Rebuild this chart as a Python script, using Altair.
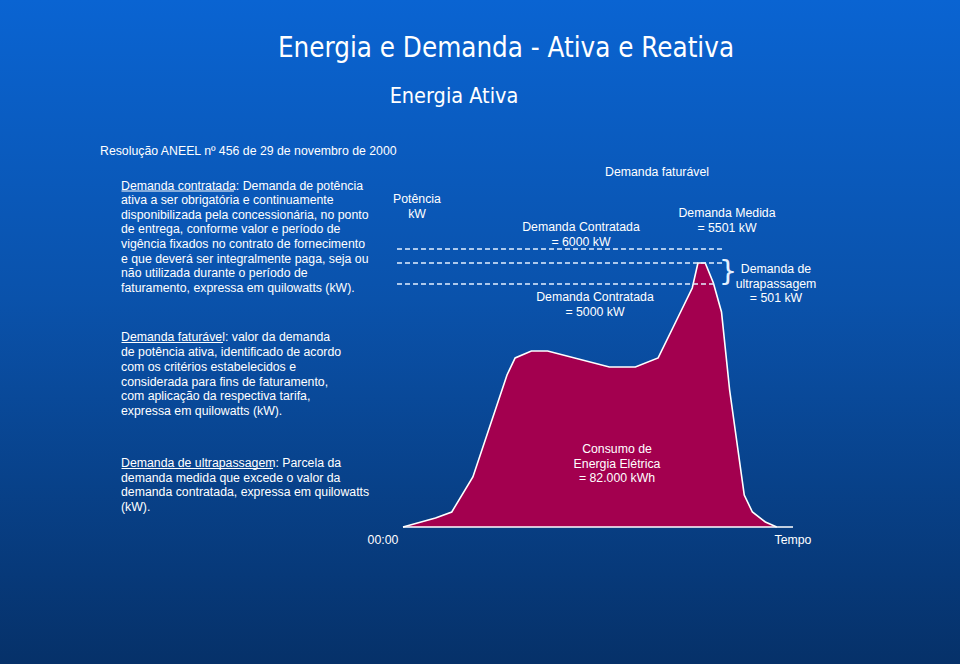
import altair as alt
import pandas as pd

# ---- data ----
hora = [0, 2.0, 3.0, 4.3, 6.4, 6.9, 7.9, 8.9, 12.7, 14.3, 15.7, 16.6, 17.8, 18.15, 18.6, 19.1, 19.6, 20.1, 21.0, 21.5, 22.3, 23.0]
potencia_kw = [0, 185, 309, 1029, 3128, 3478, 3621, 3621, 3292, 3292, 3478, 4095, 4918, 5501, 5501, 5025, 4424, 2819, 658, 309, 103, 0]

limites_kw = [6000, 5501, 5000]
limites_inicio = [-0.37, -0.37, -0.37]
limites_fim = [19.7, 19.7, 19.3]

W, H = 960, 664
BODY = "Liberation Sans, Arial, sans-serif"
TITLE_FONT = "DejaVu Sans Condensed, DejaVu Sans, sans-serif"

xscale = alt.Scale(domain=[0, 24], range=[403, 793], nice=False, zero=False)
yscale = alt.Scale(domain=[0, 5000, 5501, 6000], range=[527, 284, 263, 249], nice=False, zero=False)

one = pd.DataFrame({"a": [0]})
base1 = alt.Chart(one)

bg = base1.mark_rect(
    color=alt.Gradient(
        gradient="linear",
        stops=[
            alt.GradientStop(color="#0a64d2", offset=0),
            alt.GradientStop(color="#0a52ab", offset=0.45),
            alt.GradientStop(color="#063169", offset=1),
        ],
        x1=0, x2=0, y1=0, y2=1,
    )
).encode(x=alt.value(0), x2=alt.value(W), y=alt.value(0), y2=alt.value(H))

curve_df = pd.DataFrame({"hora": hora, "kw": potencia_kw})
area = alt.Chart(curve_df).mark_area(
    color="#a3004f", opacity=1,
    line={"color": "white", "strokeWidth": 1.6},
).encode(
    x=alt.X("hora:Q", scale=xscale, axis=None),
    y=alt.Y("kw:Q", scale=yscale, axis=None),
)

baseline_df = pd.DataFrame({"hora": [0], "hora2": [24], "kw": [0]})
baseline = alt.Chart(baseline_df).mark_rule(color="white", strokeWidth=1.6).encode(
    x=alt.X("hora:Q", scale=xscale, axis=None), x2="hora2:Q",
    y=alt.Y("kw:Q", scale=yscale, axis=None),
)

lim_df = pd.DataFrame({"hora": limites_inicio, "hora2": limites_fim, "kw": limites_kw})
limits = alt.Chart(lim_df).mark_rule(color="#e4f0ff", strokeWidth=1.5, strokeDash=[5, 3]).encode(
    x=alt.X("hora:Q", scale=xscale, axis=None), x2="hora2:Q",
    y=alt.Y("kw:Q", scale=yscale, axis=None),
)


def txt(text, x, y, size=12.3, align="center", font=BODY, lh=14.6, color="white"):
    # y = centre of the first line
    return base1.mark_text(
        text=text, font=font, fontSize=size, align=align, baseline="middle",
        lineHeight=lh, color=color,
    ).encode(x=alt.value(x), y=alt.value(y))


def uline(x1, x2, y):
    return base1.mark_rule(color="white", strokeWidth=1).encode(
        x=alt.value(x1), x2=alt.value(x2), y=alt.value(y)
    )


para1 = [
    "Demanda contratada: Demanda de potência",
    "ativa a ser obrigatória e continuamente",
    "disponibilizada pela concessionária, no ponto",
    "de entrega, conforme valor e período de",
    "vigência fixados no contrato de fornecimento",
    "e que deverá ser integralmente paga, seja ou",
    "não utilizada durante o período de",
    "faturamento, expressa em quilowatts (kW).",
]
para2 = [
    "Demanda faturável: valor da demanda",
    "de potência ativa, identificado de acordo",
    "com os critérios estabelecidos e",
    "considerada para fins de faturamento,",
    "com aplicação da respectiva tarifa,",
    "expressa em quilowatts (kW).",
]
para3 = [
    "Demanda de ultrapassagem: Parcela da",
    "demanda medida que excede o valor da",
    "demanda contratada, expressa em quilowatts",
    "(kW).",
]

texts = [
    txt("Energia e Demanda - Ativa e Reativa", 506, 49, size=27.5, font=TITLE_FONT),
    txt("Energia Ativa", 454, 97, size=21.5, font=TITLE_FONT),
    txt("Resolução ANEEL nº 456 de 29 de novembro de 2000", 100, 151, align="left"),
    txt(para1, 121, 185.7, align="left", lh=14.57),
    uline(121.5, 234, 191),
    txt(para2, 121, 337.3, align="left", lh=14.8),
    uline(121.5, 223, 342.5),
    txt(para3, 121, 463.3, align="left", lh=14.5),
    uline(121.5, 273, 468.5),
    txt(["Potência", "kW"], 417, 199, lh=14.5),
    txt("Demanda faturável", 657, 172),
    txt(["Demanda Medida", "= 5501 kW"], 727, 213, lh=14.5),
    txt(["Demanda Contratada", "= 6000 kW"], 581, 227, lh=14.5),
    txt(["Demanda Contratada", "= 5000 kW"], 595, 297, lh=14.5),
    txt(["Demanda de", "ultrapassagem", "= 501 kW"], 776, 269, lh=14.6),
    txt("}", 728, 272, size=29, color="#e4f0ff", font="DejaVu Sans ExtraLight, DejaVu Sans, sans-serif"),
    txt(["Consumo de", "Energia Elétrica", "= 82.000 kWh"], 617, 449, lh=14.7),
    txt("00:00", 383, 540),
    txt("Tempo", 793, 540),
]

chart = alt.layer(bg, area, baseline, limits, *texts).properties(
    width=W, height=H, padding=0,
    autosize=alt.AutoSizeParams(type="none"),
    background="#063169",
).configure_view(stroke=None)

chart.save("out.html", embed_options={"renderer": "svg", "actions": False})
